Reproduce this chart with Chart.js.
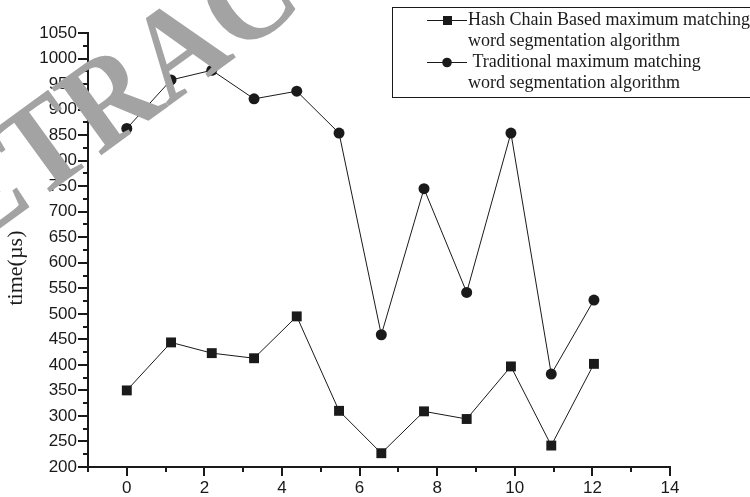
<!DOCTYPE html>
<html>
<head>
<meta charset="utf-8">
<script src="https://cdn.jsdelivr.net/npm/chart.js@4.4.0/dist/chart.umd.min.js"></script>
<style>
  html, body { margin: 0; padding: 0; background: #fff; }
  #c { display: block; }
</style>
</head>
<body>
<canvas id="c" width="750" height="497" style="width:750px;height:497px"></canvas>
<script>
// Datos
const xVals = [0, 1.14, 2.19, 3.28, 4.38, 5.47, 6.56, 7.66, 8.76, 9.9, 10.94, 12.04];
const hashVals = [350, 444, 423, 413, 495, 310, 227, 309, 294, 397, 242, 402];
const tradVals = [863, 958, 977, 921, 936, 854, 459, 745, 542, 854, 382, 527];

const xTicks = [0, 2, 4, 6, 8, 10, 12, 14];
const xMinor = [-1, 1, 3, 5, 7, 9, 11, 13];
const yTicks = [200, 250, 300, 350, 400, 450, 500, 550, 600, 650, 700, 750, 800, 850, 900, 950, 1000, 1050];
const yMinor = [225, 275, 325, 375, 425, 475, 525, 575, 625, 675, 725, 775, 825, 875, 925, 975, 1025];

const legendLabels = [
    ['Hash Chain Based maximum matching', 'word segmentation algorithm'],
    [' Traditional maximum matching', 'word segmentation algorithm']
];
const yTitle = 'time(\u00b5s)';
const watermark = 'RETRACTED ARTICLE';

const SANS = "'Liberation Sans', Arial, sans-serif";
const SERIF = "'Liberation Serif', 'Times New Roman', serif";
const INK = '#1a1a1a';

// Marcas menores, título del eje, leyenda y marca de agua
const extras = {
    id: 'extras',
    afterDraw(chart) {
        const { ctx, scales: { x, y } } = chart;
        ctx.save();
        ctx.strokeStyle = INK;
        ctx.lineWidth = 2;
        ctx.beginPath();
        xMinor.forEach(v => {
            const px = Math.round(x.getPixelForValue(v));
            ctx.moveTo(px, y.bottom);
            ctx.lineTo(px, y.bottom + 5);
        });
        yMinor.forEach(v => {
            const py = Math.round(y.getPixelForValue(v));
            ctx.moveTo(x.left, py);
            ctx.lineTo(x.left - 5, py);
        });
        ctx.stroke();

        // Título eje Y
        ctx.save();
        ctx.translate(16, 268);
        ctx.rotate(-Math.PI / 2);
        ctx.fillStyle = INK;
        ctx.font = '22px ' + SERIF;
        ctx.textAlign = 'center';
        ctx.textBaseline = 'middle';
        ctx.fillText(yTitle, 0, 0);
        ctx.restore();

        // Leyenda
        ctx.lineWidth = 1;
        ctx.strokeStyle = INK;
        ctx.strokeRect(392.5, 7.5, 400, 90);
        ctx.font = '18px ' + SERIF;
        ctx.textAlign = 'left';
        ctx.textBaseline = 'middle';
        ctx.fillStyle = INK;
        const rows = [20, 62];
        legendLabels.forEach((lines, i) => {
            const ry = rows[i];
            ctx.beginPath();
            ctx.moveTo(427, ry + 0.5);
            ctx.lineTo(467, ry + 0.5);
            ctx.stroke();
            if (i === 0) {
                ctx.fillRect(443, ry - 4, 9, 9);
            } else {
                ctx.beginPath();
                ctx.arc(447, ry + 0.5, 4.8, 0, Math.PI * 2);
                ctx.fill();
            }
            lines.forEach((t, j) => ctx.fillText(t, 468, ry + j * 21));
        });

        // Marca de agua
        ctx.save();
        ctx.translate(-97, 299);
        ctx.rotate(-36 * Math.PI / 180);
        ctx.scale(0.92, 1);
        ctx.fillStyle = '#a3a3a3';
        ctx.font = 'bold 128px ' + SERIF;
        ctx.textBaseline = 'alphabetic';
        ctx.fillText(watermark, 0, 0);
        ctx.restore();

        ctx.restore();
    }
};

const ctx = document.getElementById('c').getContext('2d');
new Chart(ctx, {
    type: 'scatter',
    data: {
        datasets: [
            {
                label: legendLabels[0].join(' '),
                data: xVals.map((v, i) => ({ x: v, y: hashVals[i] })),
                showLine: true,
                borderColor: INK,
                backgroundColor: INK,
                borderWidth: 1,
                pointStyle: 'rect',
                pointRadius: 7,
                pointBorderWidth: 0
            },
            {
                label: legendLabels[1].join(' '),
                data: xVals.map((v, i) => ({ x: v, y: tradVals[i] })),
                showLine: true,
                borderColor: INK,
                backgroundColor: INK,
                borderWidth: 1,
                pointStyle: 'circle',
                pointRadius: 5.5,
                pointBorderWidth: 0
            }
        ]
    },
    options: {
        responsive: false,
        animation: false,
        devicePixelRatio: 1,
        layout: { padding: { top: 33, right: 80, left: 0, bottom: 0 } },
        plugins: { legend: { display: false }, tooltip: { enabled: false } },
        scales: {
            x: {
                type: 'linear',
                min: -1,
                max: 14,
                afterBuildTicks: s => { s.ticks = xTicks.map(v => ({ value: v })); },
                afterFit: s => { s.height = 30; },
                border: { display: true, color: INK, width: 2 },
                grid: { drawOnChartArea: false, drawTicks: true, tickLength: 9, color: INK, lineWidth: 2 },
                ticks: { color: INK, font: { family: SANS, size: 17 }, padding: 2, maxRotation: 0, callback: v => String(v) }
            },
            y: {
                min: 200,
                max: 1050,
                afterBuildTicks: s => { s.ticks = yTicks.map(v => ({ value: v })); },
                afterFit: s => { s.width = 88; },
                border: { display: true, color: INK, width: 2 },
                grid: { drawOnChartArea: false, drawTicks: true, tickLength: 10, color: INK, lineWidth: 2 },
                ticks: { color: INK, font: { family: SANS, size: 17 }, padding: 1, callback: v => String(v) }
            }
        }
    },
    plugins: [extras]
});
</script>
</body>
</html>
